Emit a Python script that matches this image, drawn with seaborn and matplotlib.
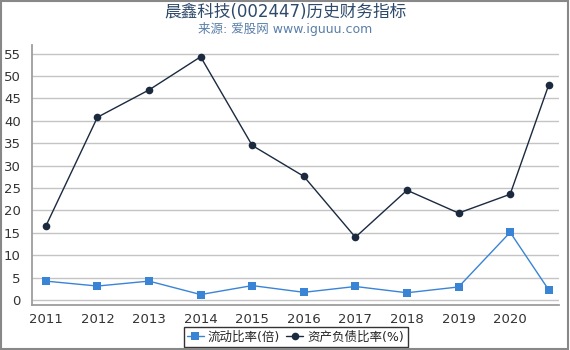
import numpy as np
import pandas as pd
import matplotlib.pyplot as plt
import seaborn as sns

plt.switch_backend("Agg")

# x positions (report dates as fractional years; last one is 2021 Q3)
periods = [2011, 2012, 2013, 2014, 2015, 2016, 2017, 2018, 2019, 2020, 2020.75]
year_ticks = [2011, 2012, 2013, 2014, 2015, 2016, 2017, 2018, 2019, 2020]
current_ratio = [4.2, 3.1, 4.2, 1.2, 3.2, 1.7, 3.0, 1.6, 2.9, 15.1, 2.2]
debt_ratio = [16.5, 40.8, 46.9, 54.3, 34.5, 27.6, 14.0, 24.5, 19.4, 23.6, 48.1]
series_names = ["流动比率(倍)", "资产负债比率(%)"]

sns.set_theme(style="white")
plt.rcParams["font.family"] = ["DejaVu Sans", "Noto Sans CJK SC"]

df = pd.DataFrame({"period": periods, series_names[0]: current_ratio,
                   series_names[1]: debt_ratio})

fig = plt.figure(figsize=(5.7, 3.5), dpi=100)
ax = fig.add_axes([0.056, 0.129, 0.925, 0.742])

sns.lineplot(data=df, x="period", y=series_names[0], ax=ax, color="#3a84d6",
             marker="s", markersize=5.5, markeredgewidth=0, linewidth=1,
             label=series_names[0])
sns.lineplot(data=df, x="period", y=series_names[1], ax=ax, color="#1b2a3f",
             marker="o", markersize=5.5, markeredgewidth=0, linewidth=1,
             label=series_names[1])

ax.set_xlim(2010.73, 2020.95)
ax.set_ylim(-1.1, 56.9)
ax.set_yticks(np.arange(0, 56, 5))
ax.set_xticks(year_ticks)
ax.set_xticklabels([str(y) for y in year_ticks])
ax.set_xlabel("")
ax.set_ylabel("")
ax.yaxis.grid(True, color="#c4c4c4", linewidth=1)
ax.tick_params(axis="both", labelsize=9.5, colors="#333333", length=4,
               color="#999999", pad=2)
ax.tick_params(axis="y", length=6)
for side in ["top", "right"]:
    ax.spines[side].set_visible(False)
for side in ["left", "bottom"]:
    ax.spines[side].set_color("#999999")

leg = ax.legend(loc="upper center", bbox_to_anchor=(0.5, -0.075), ncol=2,
                frameon=True, fontsize=9, handlelength=1.3, handletextpad=0.35,
                columnspacing=0.5, borderpad=0.3, borderaxespad=0.2,
                fancybox=False)
leg.get_frame().set_edgecolor("#000000")
leg.get_frame().set_linewidth(1)

fig.text(0.5, 0.965, "晨鑫科技(002447)历史财务指标", ha="center", va="center",
         fontsize=12, color="#2e4a6b")
fig.text(0.5, 0.918, "来源: 爱股网 www.iguuu.com", ha="center", va="center",
         fontsize=9, color="#5a7fa8")

# outer frame
fig.patches.append(plt.Rectangle((0.001, 0.003), 0.996, 0.994, transform=fig.transFigure,
                                 fill=False, edgecolor="#888888", linewidth=1.5))

fig.savefig("out.png", dpi=100)
plt.close(fig)
